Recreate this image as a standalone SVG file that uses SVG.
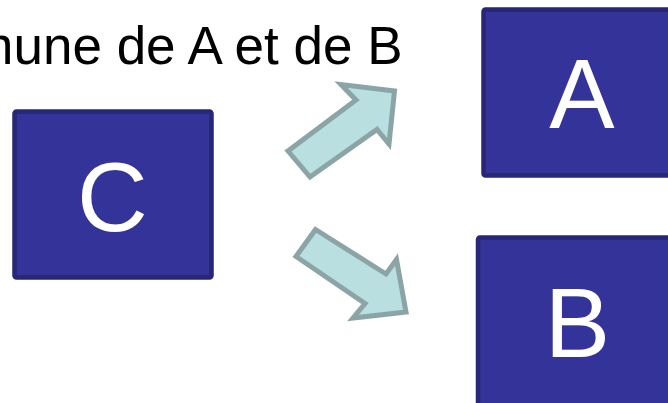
<svg xmlns="http://www.w3.org/2000/svg" width="668" height="403" viewBox="0 0 668 403">
<style>
.box{fill:#333399;stroke:#272773;stroke-width:4.5}
.lbl{font-family:"Liberation Sans",Arial,sans-serif;fill:#ffffff;text-anchor:middle;font-size:98px}
.arr{fill:#b9dfe1;stroke:#8ba5a6;stroke-width:5;stroke-linejoin:miter}
.title{font-family:"Liberation Sans",Arial,sans-serif;fill:#000000;font-size:53px;text-anchor:end}
</style>
<rect width="668" height="403" fill="#ffffff"/>
<text class="title" x="402.5" y="64">commune de A et de B</text>
<g id="node-C">
<rect class="box" x="14.5" y="111.5" width="197" height="166" rx="2"/>
<text class="lbl" x="112.5" y="231">C</text>
</g>
<g id="node-A">
<rect class="box" x="483.5" y="9.5" width="200" height="166" rx="2"/>
<text class="lbl" x="582" y="128">A</text>
</g>
<g id="node-B">
<rect class="box" x="478" y="237.5" width="200" height="180" rx="2"/>
<text class="lbl" x="577.5" y="357">B</text>
</g>
<g id="connectors">
<polygon class="arr" points="288,151 310,177 377,129.5 389,144 394.5,91 341,84.5 356,100"/>
<polygon class="arr" points="315.5,229.5 296,256.5 365,303.5 353,318 406,312 396.5,259.5 386,274"/>
</g>
</svg>
